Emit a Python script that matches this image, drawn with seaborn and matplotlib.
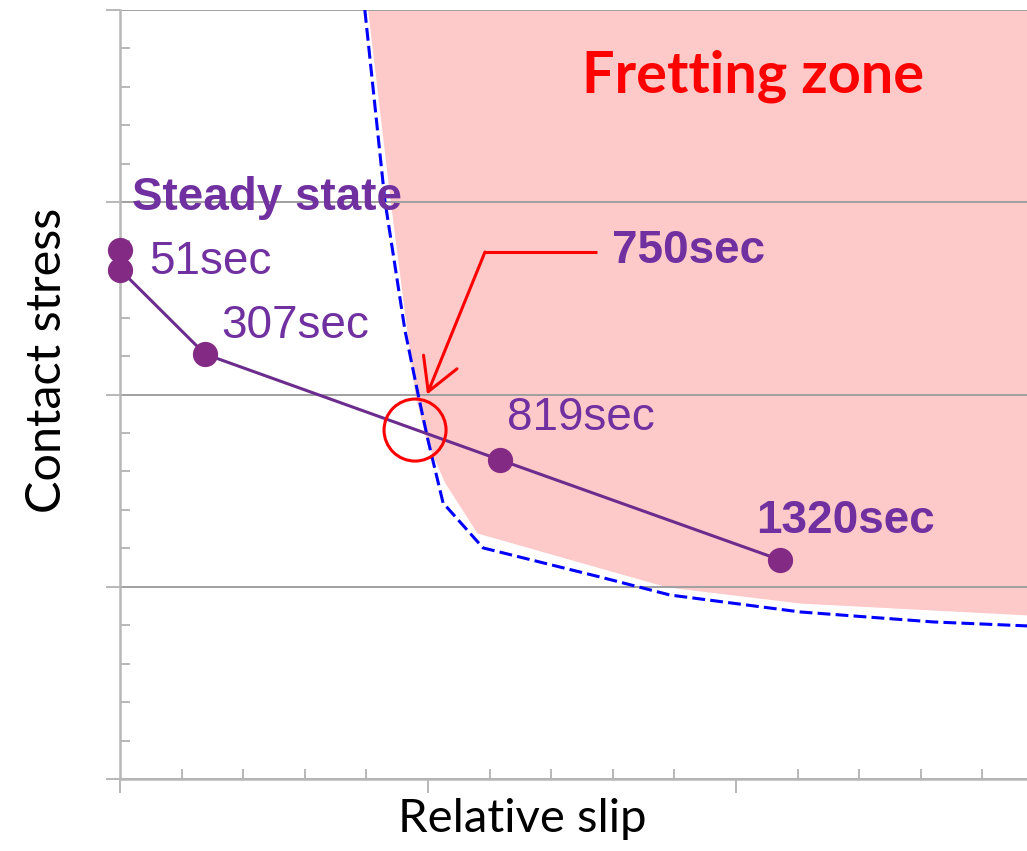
import numpy as np
import matplotlib
matplotlib.use("Agg")
import matplotlib.pyplot as plt
from matplotlib.patches import Ellipse
from matplotlib.ticker import MultipleLocator
import seaborn as sns

# Measured path of contact stress vs. relative slip over time
slip = [0.0, 0.276, 1.234, 2.143]
stress = [2.65, 2.21, 1.66, 1.14]
time_labels = ["51sec", "307sec", "819sec", "1320sec"]
label_bold = [False, False, False, True]
steady_slip = [0.0]
steady_stress = [2.75]

# Boundary of the fretting zone (dashed curve)
boundary_x = [0.795, 0.86, 0.925, 0.968, 1.0, 1.049, 1.179, 1.558, 1.786, 2.208, 2.64, 2.95]
boundary_y = [4.0, 3.01, 2.336, 2.0, 1.763, 1.436, 1.202, 1.051, 0.957, 0.869, 0.817, 0.796]

# Lower edge of the shaded fretting zone
zone_x = [0.805, 0.877, 0.958, 0.997, 1.055, 1.159, 1.558, 1.776, 2.208, 2.95]
zone_y = [3.99, 3.012, 1.997, 1.748, 1.54, 1.28, 1.098, 0.999, 0.915, 0.853]

# Onset of fretting (750 s)
onset_slip, onset_stress = 0.958, 1.815

sns.set_theme(style="white")
plt.rcParams["font.family"] = ["Liberation Sans", "DejaVu Sans"]

W, H = 1027, 851
fig = plt.figure(figsize=(W / 100, H / 100), dpi=100)
ax = fig.add_axes([120 / W, 72 / H, 907 / W, 769 / H])
ax.set_xlim(0, 2.945)
ax.set_ylim(0, 4)

purple_txt = "#7030A0"
purple_line = "#6C2C8E"
purple_dot = "#832A84"
grey = "#b8b8b8"

# axes styling
ax.set_axisbelow(True)
ax.yaxis.grid(True, color="#a0a0a0", lw=1.4)
ax.xaxis.grid(False)
for side in ("top", "right"):
    ax.spines[side].set_visible(False)
for side in ("left", "bottom"):
    ax.spines[side].set_color(grey)
    ax.spines[side].set_linewidth(1.8)
ax.xaxis.set_major_locator(MultipleLocator(1))
ax.xaxis.set_minor_locator(MultipleLocator(0.2))
ax.yaxis.set_major_locator(MultipleLocator(1))
ax.yaxis.set_minor_locator(MultipleLocator(0.2))
ax.tick_params(which="major", direction="out", length=10, width=1.4, color=grey,
               labelleft=False, labelbottom=False, left=True, bottom=True)
ax.tick_params(which="minor", direction="in", length=7.5, width=1.4, color=grey,
               left=True, bottom=True)
ax.set_xlabel("")
ax.set_ylabel("")

# fretting zone shading
ax.fill_between(zone_x, zone_y, 4, color="#FDC9C9", lw=0, zorder=0.3)

# zone boundary
sns.lineplot(x=boundary_x, y=boundary_y, sort=False, estimator=None, color="#0000FF",
             lw=2.2, ax=ax, zorder=2)
ax.lines[-1].set_dashes([4.2, 1.7])

# measured path
sns.lineplot(x=slip, y=stress, sort=False, estimator=None, color=purple_line,
             lw=2.2, ax=ax, zorder=3)
sns.scatterplot(x=slip + steady_slip, y=stress + steady_stress, color=purple_dot,
                s=330, linewidth=0, ax=ax, zorder=4, clip_on=False)

# point labels
offsets = [(29, -4), (16, 16), (7, 30), (-24, 27)]
for xv, yv, txt, bold, off in zip(slip, stress, time_labels, label_bold, offsets):
    ax.annotate(txt, xy=(xv, yv), xytext=off, textcoords="offset pixels",
                ha="left", va="baseline", fontsize=33, color=purple_txt,
                fontweight="bold" if bold else "normal", zorder=5)

ax.text(0.040, 2.96, "Steady state", fontsize=33, fontweight="bold",
        color=purple_txt, ha="left", va="baseline", zorder=5)

# onset marker and callout
ax.add_patch(Ellipse((onset_slip, onset_stress), width=62 / 308, height=62 / 192.25,
                     fill=False, ec="#FF0000", lw=2.2, zorder=6))
ax.plot([1.549, 1.185], [2.741, 2.741], color="#FF0000", lw=2.2, zorder=6,
        solid_capstyle="butt")
ax.annotate("", xy=(0.997, 2.0), xytext=(1.185, 2.741),
            arrowprops=dict(arrowstyle="->,head_length=1.15,head_width=0.65",
                            color="#FF0000", lw=2.2, shrinkA=0, shrinkB=0,
                            mutation_scale=20), zorder=6)
ax.text(1.597, 2.684, "750sec", fontsize=33, fontweight="bold",
        color=purple_txt, ha="left", va="baseline", zorder=5)

ax.text(1.500, 3.573, "Fretting zone", fontsize=41.5, fontweight="bold",
        color="#FF0000", ha="left", va="baseline", family=["Lato", "DejaVu Sans"],
        zorder=5)

# axis titles
fig.text(522 / W, (H - 832) / H, "Relative slip", fontsize=34, ha="center",
         va="baseline", color="black", family=["Lato", "DejaVu Sans"])
fig.text(61 / W, (H - 360) / H, "Contact stress", fontsize=35, rotation=90,
         ha="center", va="baseline", color="black", family=["Lato", "DejaVu Sans"],
         rotation_mode="anchor")

fig.savefig("out.png", dpi=100)
